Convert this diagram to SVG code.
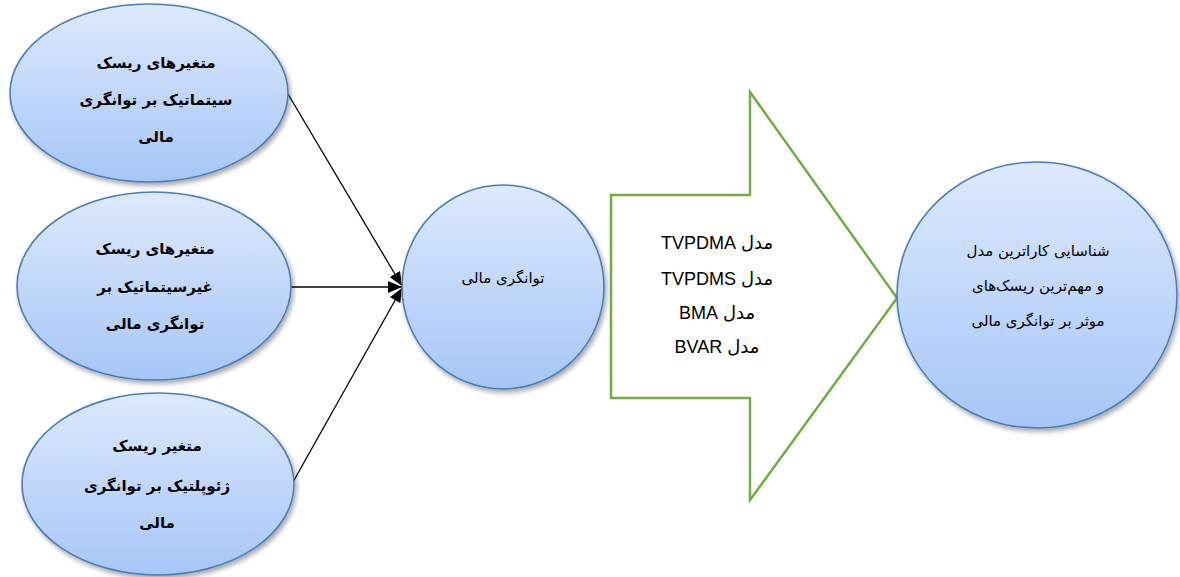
<svg xmlns="http://www.w3.org/2000/svg" width="1180" height="577" viewBox="0 0 1180 577">
<defs>
<linearGradient id="g" x1="0" y1="0" x2="0" y2="1">
<stop offset="0" stop-color="#dde9fd"/>
<stop offset="1" stop-color="#a6c6f7"/>
</linearGradient>
<filter id="sh" x="-10%" y="-10%" width="125%" height="125%">
<feGaussianBlur in="SourceAlpha" stdDeviation="2.5"/>
<feOffset dx="2" dy="3" result="b"/>
<feComponentTransfer><feFuncA type="linear" slope="0.35"/></feComponentTransfer>
<feMerge><feMergeNode/><feMergeNode in="SourceGraphic"/></feMerge>
</filter>
<marker id="ah" viewBox="0 0 14 12" refX="14" refY="6" markerWidth="14" markerHeight="12" markerUnits="userSpaceOnUse" orient="auto">
<path d="M0,0 L14,6 L0,12 z" fill="#000"/>
</marker>
</defs>
<style>
.node{fill:url(#g);stroke:#4a7ebb;stroke-width:1.6;filter:url(#sh)}
.bt{font-family:"DejaVu Sans",sans-serif;font-weight:bold;font-size:15px;fill:#000;text-anchor:middle;direction:rtl}
.nt{font-family:"DejaVu Sans",sans-serif;font-size:15px;fill:#000;text-anchor:middle;direction:rtl}
.mt{font-family:"Liberation Sans","DejaVu Sans",sans-serif;font-size:18px;fill:#000;text-anchor:middle;direction:rtl}
.conn{stroke:#000;stroke-width:1.3;fill:none;marker-end:url(#ah)}
</style>
<g id="connectors">
<line class="conn" x1="288" y1="94" x2="402" y2="286"/>
<line class="conn" x1="291" y1="287" x2="402" y2="287"/>
<line class="conn" x1="293" y1="482" x2="402" y2="288"/>
</g>
<g id="n1">
<ellipse class="node" cx="149" cy="93" rx="139" ry="89"/>
<text class="bt" x="156" y="68">متغیرهای ریسک</text>
<text class="bt" x="156" y="105">سیتماتیک بر توانگری</text>
<text class="bt" x="156" y="142">مالی</text>
</g>
<g id="n2">
<ellipse class="node" cx="154" cy="286" rx="137" ry="94"/>
<text class="bt" x="155" y="254">متغیرهای ریسک</text>
<text class="bt" x="155" y="292">غیرسیتماتیک بر</text>
<text class="bt" x="155" y="329">توانگری مالی</text>
</g>
<g id="n3">
<ellipse class="node" cx="158" cy="484" rx="136" ry="91"/>
<text class="bt" x="157" y="451">متغیر ریسک</text>
<text class="bt" x="157" y="491">ژئوپلتیک بر توانگری</text>
<text class="bt" x="157" y="528">مالی</text>
</g>
<g id="n4">
<ellipse class="node" cx="503" cy="287" rx="101" ry="102"/>
<text class="nt" x="503" y="283">توانگری مالی</text>
</g>
<g id="n5">
<polygon points="611,195 750,195 750,92 897,298 750,500 750,398 611,398" fill="#fff" stroke="#70ad47" stroke-width="2.5"/>
<text class="mt" x="717" y="249">مدل TVPDMA</text>
<text class="mt" x="717" y="285">مدل TVPDMS</text>
<text class="mt" x="717" y="319">مدل BMA</text>
<text class="mt" x="717" y="353">مدل BVAR</text>
</g>
<g id="n6">
<ellipse class="node" cx="1037" cy="295" rx="140" ry="133"/>
<text class="nt" x="1038" y="256">شناسایی کاراترین مدل</text>
<text class="nt" x="1038" y="291">و  مهم‌ترین ریسک‌های</text>
<text class="nt" x="1038" y="326">موثر بر توانگری مالی</text>
</g>
</svg>
